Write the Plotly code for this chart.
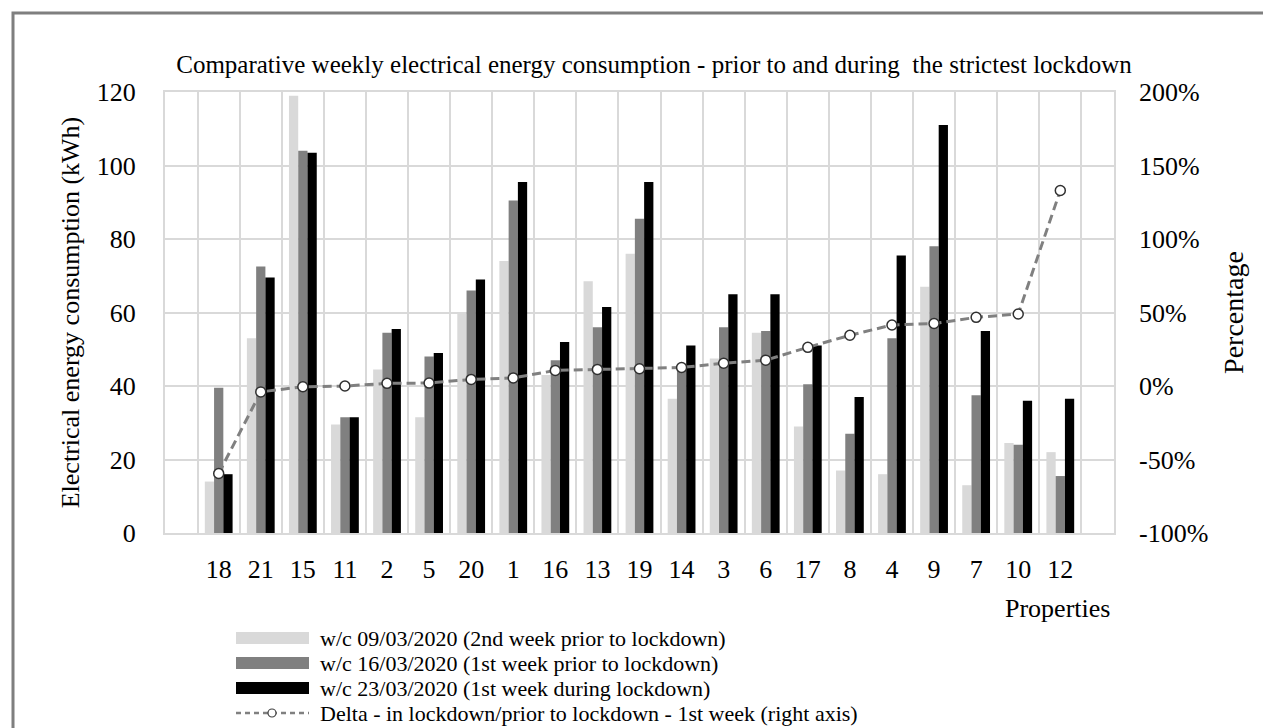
import plotly.graph_objects as go

# ---------------- data ----------------
properties = ["18", "21", "15", "11", "2", "5", "20", "1", "16", "13", "19",
              "14", "3", "6", "17", "8", "4", "9", "7", "10", "12"]
wc_09_03 = [14, 53, 119, 29.5, 44.5, 31.5, 60, 74, 43, 68.5, 76,
            36.5, 47.5, 54.5, 29, 17, 16, 67, 13, 24.5, 22]
wc_16_03 = [39.5, 72.5, 104, 31.5, 54.5, 48, 66, 90.5, 47, 56, 85.5,
            45, 56, 55, 40.5, 27, 53, 78, 37.5, 24, 15.5]
wc_23_03 = [16, 69.5, 103.5, 31.5, 55.5, 49, 69, 95.5, 52, 61.5, 95.5,
            51, 65, 65, 51, 37, 75.5, 111, 55, 36, 36.5]
delta_pct = [-59.5, -4, -0.5, 0, 1.8, 2, 4.5, 5.5, 10.6, 11.3, 11.7,
             12.6, 15.5, 17.6, 26.3, 34.5, 41.5, 42.5, 46.7, 49, 133]

pct_tick_values = [-100, -50, 0, 50, 100, 150, 200]
pct_tick_labels = ["-100%", "-50%", "0%", "50%", "100%", "150%", "200%"]

series_names = ["w/c 09/03/2020 (2nd week prior to lockdown)",
                "w/c 16/03/2020 (1st week prior to lockdown)",
                "w/c 23/03/2020 (1st week during lockdown)"]
delta_name = "Delta - in lockdown/prior to lockdown - 1st week (right axis)"
title_text = ("Comparative weekly electrical energy consumption - prior to and during "
              " the strictest lockdown")

# ---------------- layout constants ----------------
W, H = 1271, 728
L, R, T, B = 157, 1106, 84, 525
FONT = "Liberation Serif"
colors = ["#D9D9D9", "#808080", "#000000"]


def xp(px):
    return (px - L) / (R - L)


def yp(py):
    return (B - py) / (B - T)


fig = go.Figure()
for vals, name, col in zip([wc_09_03, wc_16_03, wc_23_03], series_names, colors):
    fig.add_trace(go.Bar(x=properties, y=vals, name=name, marker_color=col,
                         marker_line_width=0, showlegend=False))

fig.add_trace(go.Scatter(
    x=properties, y=delta_pct, name=delta_name, yaxis="y2",
    mode="lines+markers",
    line=dict(color="#808080", width=3, dash="9px,5px"),
    marker=dict(size=10, color="white", line=dict(color="#303030", width=1.5)),
    showlegend=False))

shapes = []
annotations = []

# outer frame
shapes.append(dict(type="rect", xref="paper", yref="paper",
                   x0=xp(5), x1=xp(1290), y0=yp(760), y1=yp(5),
                   line=dict(color="#7F7F7F", width=3), fillcolor="rgba(0,0,0,0)",
                   layer="above"))

# manual legend
rows = [630, 655, 680, 705]
sw_x0, sw_x1 = 228, 301
for i, col in enumerate(colors):
    shapes.append(dict(type="rect", xref="paper", yref="paper",
                       x0=xp(sw_x0), x1=xp(sw_x1),
                       y0=yp(rows[i] + 6), y1=yp(rows[i] - 6),
                       line=dict(width=0), fillcolor=col))
shapes.append(dict(type="line", xref="paper", yref="paper",
                   x0=xp(sw_x0), x1=xp(sw_x1), y0=yp(rows[3]), y1=yp(rows[3]),
                   line=dict(color="#808080", width=2.5, dash="5px,4px")))
shapes.append(dict(type="circle", xref="paper", yref="paper",
                   x0=xp(260), x1=xp(268), y0=yp(rows[3] + 4), y1=yp(rows[3] - 4),
                   line=dict(color="#404040", width=1.2), fillcolor="white"))
for i, txt in enumerate(series_names + [delta_name]):
    annotations.append(dict(text=txt, xref="paper", yref="paper",
                            x=xp(310), y=yp(rows[i]), xanchor="left",
                            yanchor="middle", showarrow=False,
                            font=dict(family=FONT, size=22, color="#000000")))

# "Properties" axis label
annotations.append(dict(text="Properties", xref="paper", yref="paper",
                        x=xp(1104), y=yp(600), xanchor="right", yanchor="middle",
                        showarrow=False,
                        font=dict(family=FONT, size=26, color="#000000")))

fig.update_layout(
    width=W, height=H,
    margin=dict(l=L, r=W - R, t=T, b=H - B, autoexpand=False),
    paper_bgcolor="white", plot_bgcolor="white",
    barmode="group", bargap=0.34, bargroupgap=0,
    font=dict(family=FONT, color="#000000"),
    title=dict(text=title_text, xref="paper", x=xp(646), xanchor="center",
               yref="container", y=1 - 56 / H, yanchor="middle",
               font=dict(family=FONT, size=25, color="#000000")),
    xaxis=dict(type="category", tickson="boundaries", showgrid=True,
               gridcolor="#D9D9D9", gridwidth=2, showline=True,
               linecolor="#D9D9D9", linewidth=2, mirror=True, ticks="",
               tickfont=dict(family=FONT, size=26), ticklabelstandoff=12),
    yaxis=dict(range=[0, 120], dtick=20, showgrid=True, gridcolor="#D9D9D9",
               gridwidth=2, showline=True, linecolor="#D9D9D9", linewidth=2,
               mirror=True, ticks="", zeroline=False,
               tickfont=dict(family=FONT, size=26), ticklabelstandoff=22,
               title=dict(text="Electrical energy consumption (kWh)",
                          font=dict(family=FONT, size=26), standoff=10)),
    yaxis2=dict(overlaying="y", side="right", range=[-100, 200],
                tickmode="array", tickvals=pct_tick_values, ticktext=pct_tick_labels,
                showgrid=False, zeroline=False, ticks="",
                tickfont=dict(family=FONT, size=26), ticklabelstandoff=24,
                title=dict(text="Percentage", font=dict(family=FONT, size=28),
                           standoff=16)),
    shapes=shapes, annotations=annotations,
)

fig.write_html("out.html")
